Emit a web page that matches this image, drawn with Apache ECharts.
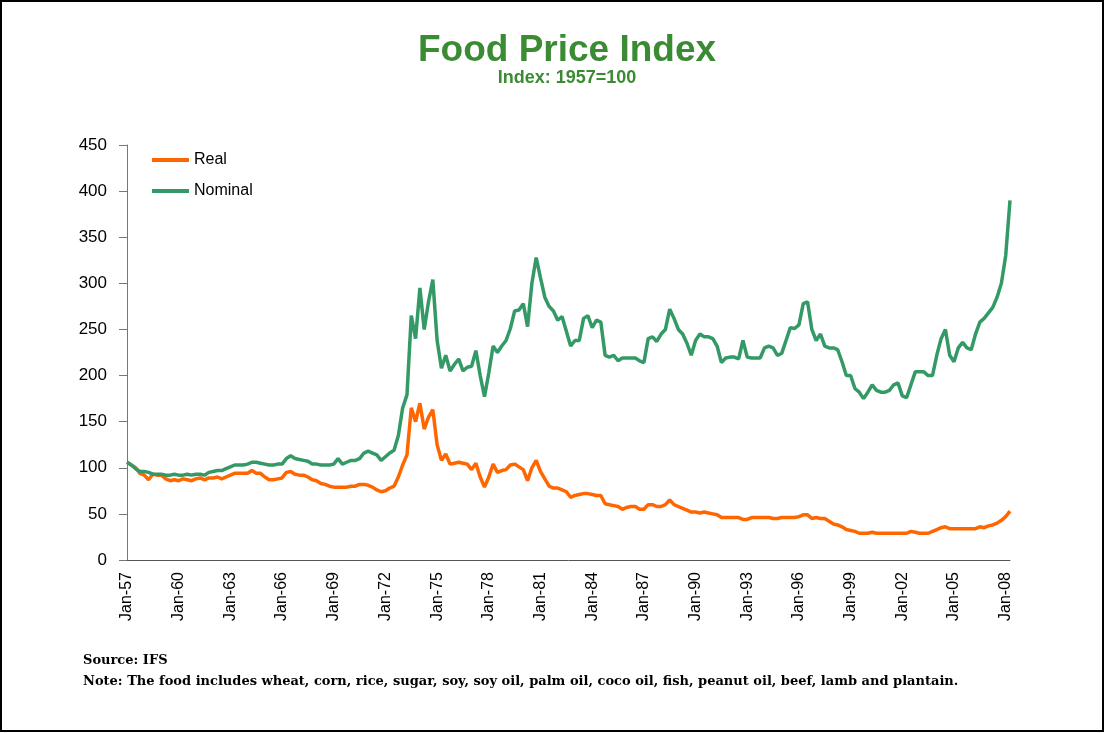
<!DOCTYPE html>
<html>
<head>
<meta charset="utf-8">
<script src="https://cdn.jsdelivr.net/npm/echarts@6/dist/echarts.min.js"></script>
<style>
html,body{margin:0;padding:0;background:#fff;}
#chart{width:1107px;height:733px;}
</style>
</head>
<body>
<div id="chart"></div>
<script>
// Quarterly observations, Jan-57 .. Apr-08
const startYear = 1957;
const quarterMonths = ['Jan', 'Apr', 'Jul', 'Oct'];

const nominal = [
  106, 103, 99, 96,   96, 95, 93, 93,   93, 92, 92, 93,   92, 92, 93, 92,
  93, 93, 92, 95,     96, 97, 97, 99,   101, 103, 103, 103, 104, 106, 106, 105,
  104, 103, 103, 104, 104, 110, 113, 110, 109, 108, 107, 104, 104, 103, 103, 103,
  104, 110, 104, 106, 108, 108, 110, 116, 118, 116, 114, 108, 112, 116, 119, 135,
  165, 179, 265, 240, 295, 250, 280, 304, 238, 208, 222, 205, 212, 218, 205, 209,
  210, 227, 200, 177, 203, 232, 225, 232, 238, 251, 270, 271, 278, 253, 300, 328,
  306, 285, 275, 270, 260, 264, 248, 232, 238, 238, 262, 265, 252, 260, 258, 222,
  220, 222, 216, 219, 219, 219, 219, 216, 214, 240, 242, 237, 245, 250, 272, 262,
  250, 245, 235, 222, 238, 245, 242, 242, 240, 232, 214, 219, 220, 220, 218, 238,
  220, 219, 219, 219, 230, 232, 230, 222, 224, 238, 252, 251, 255, 278, 280, 250,
  238, 245, 232, 230, 230, 228, 215, 200, 200, 186, 182, 175, 182, 190, 184, 182,
  182, 184, 190, 192, 178, 176, 190, 204, 204, 204, 200, 200, 222, 240, 250, 222,
  215, 230, 236, 230, 228, 245, 258, 262, 268, 274, 285, 300, 330, 390
];

const real = [
  106, 103, 100, 94,  92, 87, 93, 92,   92, 88, 86, 87,   86, 88, 87, 86,
  88, 89, 87, 89,     89, 90, 88, 90,   92, 94, 94, 94,   94, 97, 94, 94,
  90, 87, 87, 88,     89, 95, 96, 93,   92, 92, 90, 87,   86, 83, 82, 80,
  79, 79, 79, 79,     80, 80, 82, 82,   81, 79, 76, 74,   75, 78, 80, 90,
  103, 114, 165, 150, 170, 142, 155, 163, 125, 108, 115, 104, 105, 106, 105, 104,
  98, 105, 90, 79,    90, 104, 95, 97,  98, 103, 104, 101, 98, 86, 100, 108,
  96, 88, 80, 78,     78, 76, 74, 68,   70, 71, 72, 72,   71, 70, 70, 61,
  60, 59, 58, 55,     57, 58, 58, 55,   55, 60, 60, 58,   58, 60, 65, 60,
  58, 56, 54, 52,     52, 51, 52, 51,   50, 49, 46, 46,   46, 46, 46, 44,
  44, 46, 46, 46,     46, 46, 45, 45,   46, 46, 46, 46,   47, 49, 49, 45,
  46, 45, 45, 42,     39, 38, 36, 33,   32, 31, 29, 29,   29, 30, 29, 29,
  29, 29, 29, 29,     29, 29, 31, 30,   29, 29, 29, 31,   33, 35, 36, 34,
  34, 34, 34, 34,     34, 34, 36, 35,   37, 38, 40, 43,   47, 53
];

const categories = [];
for (let i = 0; i < nominal.length; i++) {
  const y = startYear + Math.floor(i / 4);
  categories.push(quarterMonths[i % 4] + '-' + String(y).slice(2));
}

const yTicks = { min: 0, max: 450, interval: 50 };
const seriesNames = ['Real', 'Nominal'];
const titleText = 'Food Price Index';
const subtitleText = 'Index: 1957=100';
const sourceText = 'Source: IFS';
const noteText = 'Note: The food includes wheat, corn, rice, sugar, soy, soy oil, palm oil, coco oil, fish, peanut oil, beef, lamb and plantain.';

const chart = echarts.init(document.getElementById('chart'), null, { renderer: 'canvas' });
const font = 'Liberation Sans, Arial, sans-serif';
const green = '#3B8A34';

chart.setOption({
  animation: false,
  backgroundColor: '#ffffff',
  grid: { left: 127, top: 145, right: 97, bottom: 173, containLabel: false },
  legend: {
    left: 150, top: 152, orient: 'vertical', padding: 0,
    itemWidth: 37, itemHeight: 14, itemGap: 15,
    itemStyle: { opacity: 0 },
    lineStyle: { width: 4 },
    textStyle: { fontFamily: font, fontSize: 16, color: '#000' },
    data: seriesNames
  },
  xAxis: {
    type: 'category',
    data: categories,
    boundaryGap: false,
    axisLine: { lineStyle: { color: '#555', width: 1 } },
    axisTick: { show: false },
    axisLabel: {
      interval: 11, rotate: 90, margin: 12,
      fontFamily: font, fontSize: 16, color: '#000'
    },
    splitLine: { show: false }
  },
  yAxis: {
    type: 'value',
    min: yTicks.min, max: yTicks.max, interval: yTicks.interval,
    axisLine: { show: true, lineStyle: { color: '#777', width: 1 } },
    axisTick: { show: true, length: 8, lineStyle: { color: '#777' } },
    axisLabel: { fontFamily: font, fontSize: 17, color: '#000', margin: 20 },
    splitLine: { show: false }
  },
  series: [
    {
      name: seriesNames[0], type: 'line', data: real, showSymbol: false, symbol: 'none',
      lineStyle: { color: '#FF6600', width: 3.5 }, itemStyle: { color: '#FF6600' }
    },
    {
      name: seriesNames[1], type: 'line', data: nominal, showSymbol: false, symbol: 'none',
      lineStyle: { color: '#339966', width: 3.5 }, itemStyle: { color: '#339966' }
    }
  ],
  graphic: [
    { type: 'rect', silent: true, shape: { x: 1, y: 1, width: 1102, height: 730 },
      style: { fill: 'none', stroke: '#000', lineWidth: 2 } },
    { type: 'text', x: 567, y: 51, style: { text: titleText, textAlign: 'center', textVerticalAlign: 'middle',
      fill: green, font: 'bold 37px ' + font } },
    { type: 'text', x: 567, y: 78, style: { text: subtitleText, textAlign: 'center', textVerticalAlign: 'middle',
      fill: green, font: 'bold 18px ' + font } },
    { type: 'text', x: 83, y: 661, style: { text: sourceText, textAlign: 'left', textVerticalAlign: 'middle',
      fill: '#000', font: 'bold 13px DejaVu Serif, serif' } },
    { type: 'text', x: 83, y: 682, style: { text: noteText, textAlign: 'left', textVerticalAlign: 'middle',
      fill: '#000', font: 'bold 13px DejaVu Serif, serif' } }
  ]
});
</script>
</body>
</html>
